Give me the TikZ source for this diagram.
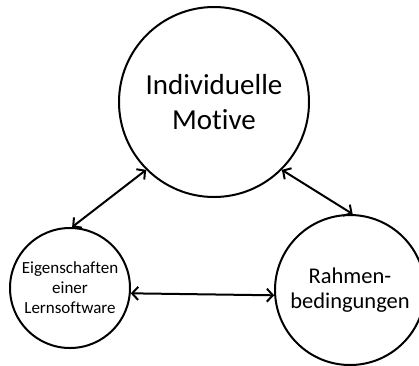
\documentclass[tikz,border=0pt]{standalone}
\usepackage{fontspec}
\setmainfont{Carlito}[Ligatures={NoCommon,NoRequired,NoContextual}]
\usetikzlibrary{arrows.meta}
\begin{document}
\begin{tikzpicture}[x=1pt,y=-1pt,
  bubble/.style={circle,draw=black,line width=2pt,inner sep=0pt,align=center},
  link/.style={line width=2pt,{Straight Barb[length=6pt,width=13pt]}-{Straight Barb[length=6pt,width=13pt]}}]
  \useasboundingbox (0,0) rectangle (419,365);
  \clip (0,0) rectangle (419,365);
  % three factors
  \node[bubble,minimum size=190pt,font=\fontsize{29}{35}\selectfont] (motive) at (214,102) {Individuelle\\Motive};
  \node[bubble,minimum size=120pt,font=\fontsize{17}{20}\selectfont] (software) at (70,288) {Eigenschaften\\einer\\Lernsoftware};
  \node[bubble,minimum size=150pt,font=\fontsize{22.5}{25}\selectfont] (rahmen) at (350,290) {Rahmen-\\bedingungen};
  % mutual influences
  \draw[link] (software.88) -- (motive.225);
  \draw[link] (motive.315) -- (rahmen.88);
  \draw[link] (software.-5) -- (rahmen.184);
\end{tikzpicture}
\end{document}
